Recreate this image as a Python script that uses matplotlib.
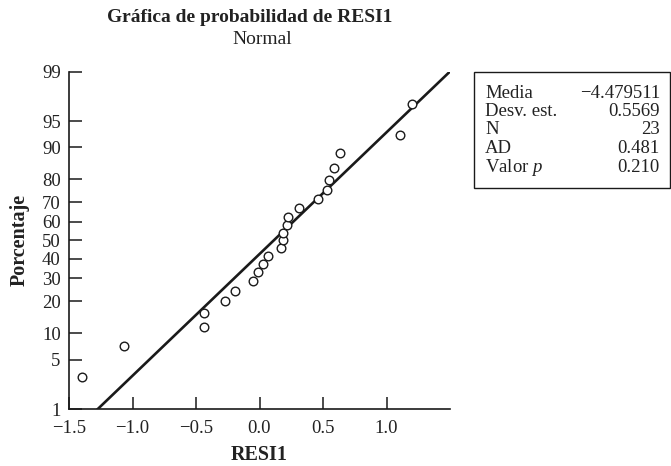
from statistics import NormalDist
import numpy as np
import matplotlib
matplotlib.use("Agg")
import matplotlib.pyplot as plt
from matplotlib.patches import Rectangle

plt.rcParams['font.family'] = ['Liberation Serif', 'DejaVu Serif']
plt.rcParams['mathtext.fontset'] = 'custom'
plt.rcParams['mathtext.it'] = 'Liberation Serif:italic'
plt.rcParams['mathtext.rm'] = 'Liberation Serif'

# residuos ordenados (RESI1)
resi1 = [-1.400, -1.065, -0.437, -0.437, -0.272, -0.195, -0.049, -0.009,
         0.025, 0.065, 0.172, 0.183, 0.187, 0.214, 0.224, 0.309,
         0.461, 0.534, 0.550, 0.587, 0.634, 1.106, 1.201]

pct_ticks = [1, 5, 10, 20, 30, 40, 50, 60, 70, 80, 90, 95, 99]
x_ticks = [-1.5, -1.0, -0.5, 0.0, 0.5, 1.0]

stat_names = ["Media", "Desv. est.", "N", "AD", "Valor $p$"]
stat_values = ["\u22124.479511", "0.5569", "23", "0.481", "0.210"]

nd = NormalDist()
x = np.sort(np.array(resi1))
n = len(x)
# rangos medianos de Benard
p = (np.arange(1, n + 1) - 0.3) / (n + 0.4)
z = np.array([nd.inv_cdf(v) for v in p])

mu = x.mean()
sd = x.std(ddof=1)

W, H = 671, 466
fig = plt.figure(figsize=(W / 100, H / 100), dpi=100)
ax = fig.add_axes([69 / W, 1 - 409 / H, 381 / W, 337.3 / H])

txt = '#222222'
ink = '#1a1a1a'

zlo, zhi = nd.inv_cdf(0.01), nd.inv_cdf(0.99)
zl = np.linspace(zlo, zhi + 0.1, 50)
ax.plot(mu + sd * zl, zl, color=ink, lw=1.9, zorder=2)
ax.plot(x, z, 'o', mfc='white', mec=ink, ms=6.2, mew=1.0, zorder=3)

ax.set_xlim(-1.5, 1.5)
ax.set_ylim(zlo, zhi)
ax.set_yticks([nd.inv_cdf(t / 100) for t in pct_ticks])
ax.set_yticklabels([str(t) for t in pct_ticks])
ax.set_xticks(x_ticks)
ax.set_xticklabels([f"{t:.1f}".replace("-", "\u2212") for t in x_ticks])

for s in ['top', 'right']:
    ax.spines[s].set_visible(False)
for s in ['left', 'bottom']:
    ax.spines[s].set_linewidth(1.2)
    ax.spines[s].set_color(ink)
ax.tick_params(direction='in', length=9, width=1.1, color=ink,
               labelsize=13.5, labelcolor=txt)
ax.tick_params(axis='y', pad=6)
ax.tick_params(axis='x', pad=8)

# etiquetas de ejes
fig.text(259 / W, 1 - 455 / H, "RESI1", ha='center', va='center',
         fontsize=14.5, fontweight='bold', color=txt)
fig.text(20 / W, 1 - 240 / H, "Porcentaje", ha='center', va='center',
         rotation=90, fontsize=14.5, fontweight='bold', color=txt)

fig.text(250 / W, 1 - 17 / H, "Gráfica de probabilidad de RESI1",
         ha='center', va='center', fontsize=14, fontweight='bold', color=txt)
fig.text(262 / W, 1 - 40 / H, "Normal", ha='center', va='center',
         fontsize=14, color=txt)

# cuadro de estadísticas
fig.patches.append(Rectangle((474 / W, 1 - 188.3 / H), 195.5 / W, 116.6 / H,
                             transform=fig.transFigure, fill=False,
                             ec=ink, lw=1.0))
for i, (nm, val) in enumerate(zip(stat_names, stat_values)):
    yy = 1 - (93 + i * 18.5) / H
    fig.text(485 / W, yy, nm, ha='left', va='center', fontsize=13.5, color=txt)
    fig.text(660 / W, yy, val, ha='right', va='center', fontsize=13.5, color=txt)

fig.savefig("out.png", dpi=100)
